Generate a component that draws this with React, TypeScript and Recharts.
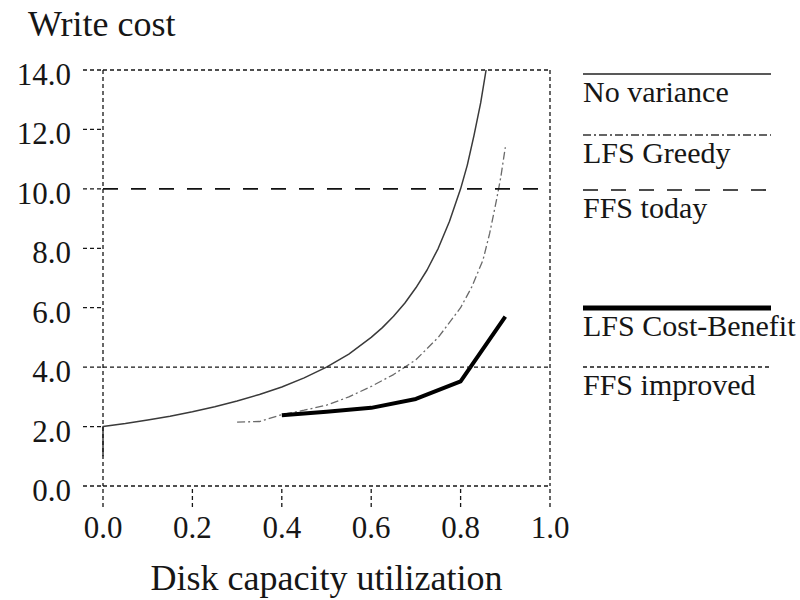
import { LineChart, Line, XAxis, YAxis, Legend, Label } from "recharts";

const utilTicks = [0, 0.2, 0.4, 0.6, 0.8, 1.0];
const costTicks = [0, 2, 4, 6, 8, 10, 12, 14];

const seriesNames = ["No variance", "LFS Greedy", "FFS today", "LFS Cost-Benefit", "FFS improved"];

// no variance: thin solid curve, drops to ~1.0 at zero utilization
const noVarianceU = [0, 0, 0.05, 0.1, 0.15, 0.2, 0.25, 0.3, 0.35, 0.4, 0.45, 0.5, 0.55, 0.6, 0.625, 0.65, 0.675, 0.7, 0.725, 0.75, 0.775, 0.8, 0.815, 0.83, 0.845, 0.857];
const noVarianceCost = [1.0, 2.0, 2.1, 2.22, 2.35, 2.5, 2.67, 2.86, 3.08, 3.33, 3.64, 4.0, 4.44, 5.0, 5.33, 5.71, 6.15, 6.67, 7.27, 8.0, 8.9, 10.0, 10.8, 11.8, 12.9, 14.0];

const greedyU = [0.3, 0.35, 0.4, 0.45, 0.5, 0.55, 0.6, 0.65, 0.7, 0.75, 0.8, 0.825, 0.85, 0.865, 0.88, 0.89, 0.9];
const greedyCost = [2.15, 2.17, 2.4, 2.55, 2.72, 3.0, 3.35, 3.75, 4.25, 5.0, 6.0, 6.7, 7.6, 8.5, 9.6, 10.4, 11.4];

const costBenefitU = [0.4, 0.5, 0.6, 0.7, 0.8, 0.9];
const costBenefitCost = [2.38, 2.5, 2.63, 2.93, 3.52, 5.7];

const ffsU = [0, 1];
const ffsTodayCost = [10, 10];
const ffsImprovedCost = [4, 4];

const toPoints = (u: number[], c: number[]) => u.map((x, i) => ({ u: x, cost: c[i] }));

const FONT = "'Liberation Serif', 'Times New Roman', serif";
const INK = "#161616";
const dotted = { stroke: INK, strokeWidth: 1.3, strokeDasharray: "4 3" };

const lineStyles = [
  { stroke: "#3a3a3a", strokeWidth: 1.5, dash: undefined, legendWidth: 1.5, legendStroke: "#222" },
  { stroke: "#6a6a6a", strokeWidth: 1.3, dash: "8 3 2 3", legendWidth: 1.3, legendStroke: "#333" },
  { stroke: "#111", strokeWidth: 1.6, dash: "15 13", legendWidth: 1.6, legendStroke: "#111" },
  { stroke: "#000", strokeWidth: 4, dash: undefined, legendWidth: 5, legendStroke: "#000" },
  { stroke: INK, strokeWidth: 1.3, dash: "4 3", legendWidth: 1.3, legendStroke: INK },
];
const legendY = [24, 85, 140, 258, 317];

function YTick(props: any) {
  const { x, y, payload } = props;
  return (
    <text x={x} y={y + 4} dy="0.355em" textAnchor="end" fontSize={31} fontFamily={FONT} fill={INK}>
      {Number(payload.value).toFixed(1)}
    </text>
  );
}

function XTick(props: any) {
  const { x, y, payload } = props;
  return (
    <text x={x} y={y} dy="0.71em" textAnchor="middle" fontSize={31} fontFamily={FONT} fill={INK}>
      {Number(payload.value).toFixed(1)}
    </text>
  );
}

function SideLegend() {
  return (
    <svg width={217} height={360} style={{ display: "block" }}>
      {seriesNames.map((name, i) => {
        const s = lineStyles[i];
        return (
          <g key={name}>
            <line x1={0} x2={188} y1={legendY[i]} y2={legendY[i]} stroke={s.legendStroke} strokeWidth={s.legendWidth} strokeDasharray={s.dash} />
            <text x={0} y={legendY[i] + 28} fontSize={30} fontFamily={FONT} fill={INK}>
              {name}
            </text>
          </g>
        );
      })}
    </svg>
  );
}

export default function App() {
  const series = [
    toPoints(noVarianceU, noVarianceCost),
    toPoints(greedyU, greedyCost),
    toPoints(ffsU, ffsTodayCost),
    toPoints(costBenefitU, costBenefitCost),
    toPoints(ffsU, ffsImprovedCost),
  ];
  return (
    <div style={{ position: "absolute", left: 0, top: 0, width: 800, height: 600, background: "#fff" }}>
      <LineChart width={800} height={600} margin={{ top: 40, right: 225, bottom: 54, left: 0 }}>
        <XAxis
          xAxisId="bottom"
          type="number"
          dataKey="u"
          domain={[0, 1]}
          ticks={utilTicks}
          height={60}
          tickSize={21}
          tickMargin={9}
          axisLine={dotted}
          tickLine={dotted}
          tick={<XTick />}
        >
          <Label
            content={(p: any) => (
              <text x={p.viewBox.x + p.viewBox.width / 2} y={p.viewBox.y + 104} textAnchor="middle" fontSize={36} fontFamily={FONT} fill={INK}>
                Disk capacity utilization
              </text>
            )}
          />
        </XAxis>
        <XAxis
          xAxisId="top"
          orientation="top"
          type="number"
          dataKey="u"
          domain={[0, 1]}
          ticks={utilTicks}
          height={30}
          tickSize={28}
          axisLine={dotted}
          tickLine={dotted}
          tick={false}
        />
        <YAxis
          yAxisId="left"
          type="number"
          domain={[0, 14]}
          ticks={costTicks}
          width={103}
          tickSize={20}
          tickMargin={12}
          axisLine={dotted}
          tickLine={dotted}
          tick={<YTick />}
        >
          <Label
            content={(p: any) => (
              <text x={28} y={p.viewBox.y - 34} fontSize={36} fontFamily={FONT} fill={INK}>
                Write cost
              </text>
            )}
          />
        </YAxis>
        <YAxis
          yAxisId="right"
          orientation="right"
          type="number"
          domain={[0, 14]}
          ticks={costTicks}
          width={25}
          tickSize={23}
          axisLine={dotted}
          tickLine={dotted}
          tick={false}
        />
        <Legend
          layout="horizontal"
          verticalAlign="middle"
          align="center"
          wrapperStyle={{ left: 583, top: 50, width: 217, height: 360 }}
          content={() => <SideLegend />}
        />
        {series.map((data, i) => (
          <Line
            key={seriesNames[i]}
            name={seriesNames[i]}
            data={data}
            dataKey="cost"
            xAxisId="bottom"
            yAxisId="left"
            type="linear"
            stroke={lineStyles[i].stroke}
            strokeWidth={lineStyles[i].strokeWidth}
            strokeDasharray={lineStyles[i].dash}
            strokeLinejoin="round"
            dot={false}
            activeDot={false}
            isAnimationActive={false}
          />
        ))}
      </LineChart>
    </div>
  );
}
